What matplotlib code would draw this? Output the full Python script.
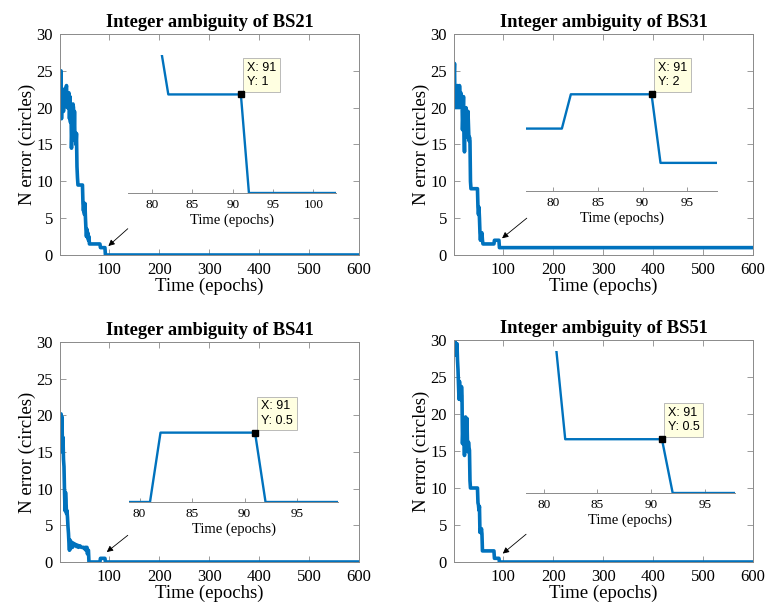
import matplotlib
matplotlib.use('agg')
import matplotlib.pyplot as plt

plt.rcParams['font.family'] = ['Liberation Serif', 'DejaVu Serif']

# epochs / ambiguity error
t_bs21 = [1, 2, 3, 4, 5, 6, 7, 8, 9, 10, 11, 12, 13, 14, 15, 16, 17, 18, 19, 20,
          21, 22, 23, 24, 25, 26, 27, 28, 29, 30, 31, 32, 33, 34, 35, 36, 37, 46,
          47, 48, 49, 50, 51, 52, 53, 54, 55, 56, 57, 58, 59, 60, 81, 82, 91, 92, 600]
n_bs21 = [21, 23, 25, 18.5, 21.5, 20, 22, 19.5, 22.5, 21, 22.5, 20.5, 22.5, 23, 21, 20,
          22, 21, 22, 18.5, 21.5, 18, 20, 14.5, 17, 19, 20.5, 20, 16, 19.5, 15.5, 16.5,
          15, 16.5, 12, 10.5, 9.5, 9.5, 7, 6, 7, 5.5, 7, 5, 3.5, 2.5, 3.5, 2.5, 3, 2,
          2.5, 1.5, 1.5, 1, 1, 0, 0]

t_bs31 = [1, 2, 3, 4, 5, 6, 7, 8, 9, 10, 11, 12, 13, 14, 15, 16, 17, 18, 19, 20,
          21, 22, 23, 24, 25, 26, 27, 28, 29, 30, 31, 32, 33, 34, 35, 48, 49, 50,
          51, 52, 53, 54, 55, 56, 57, 58, 59, 81, 82, 91, 92, 600]
n_bs31 = [24, 26, 20, 23, 21, 22.5, 20, 23, 21, 22.5, 20, 23, 21.5, 20.5, 22, 21,
          21.5, 17, 19, 21.5, 16, 14, 17, 18, 20, 17, 19.5, 16, 19.5, 17.5, 15.5, 16,
          15.5, 10, 9, 9, 6.5, 5.5, 6.5, 5, 3, 2, 3, 2.5, 3, 2, 1.5, 1.5, 2, 2, 1, 1]

t_bs41 = [1, 2, 3, 4, 5, 6, 7, 8, 9, 10, 11, 12, 13, 14, 15, 16, 17, 18, 19, 20,
          21, 22, 23, 24, 25, 26, 27, 28, 29, 30, 32, 34, 36, 38, 41, 44, 48, 50,
          52, 53, 55, 56, 57, 58, 59, 81, 82, 91, 92, 600]
n_bs41 = [18, 16.6, 20.2, 16.1, 19.8, 15, 17, 14, 13, 9.8, 7, 9.5, 8.4, 6.6, 7, 6.1,
          4.8, 3.9, 2.5, 1.6, 3, 1.8, 2.8, 2.5, 2.2, 2, 2.6, 2.2, 2.5, 2.3, 2.4, 2.1,
          2.3, 2, 2.2, 2, 2, 1.8, 2, 1.6, 2, 1.1, 1.6, 1.6, 0, 0, 0.5, 0.5, 0, 0]

t_bs51 = [1, 2, 3, 4, 5, 6, 7, 8, 9, 10, 11, 12, 13, 14, 15, 16, 17, 18, 19, 20,
          21, 22, 23, 24, 25, 26, 27, 28, 29, 30, 31, 32, 33, 34, 48, 49, 50, 51,
          52, 53, 54, 55, 56, 57, 58, 81, 82, 91, 92, 600]
n_bs51 = [30, 28, 29.8, 28, 29.5, 28.5, 29.5, 27.3, 26, 24, 22, 24.4, 22, 23.5, 21.9,
          23.7, 22.5, 16, 18, 19.1, 16.5, 14.4, 17, 19.6, 17.4, 18.5, 19.4, 16, 14.9,
          16.2, 15.5, 15.1, 11, 10, 10, 8, 7.7, 7, 7.5, 4, 4.5, 4, 4.5, 3.8, 1.5, 1.5,
          0.5, 0.5, 0, 0]

names = ['BS21', 'BS31', 'BS41', 'BS51']
series_t = [t_bs21, t_bs31, t_bs41, t_bs51]
series_n = [n_bs21, n_bs31, n_bs41, n_bs51]
tip_y = [1, 2, 0.5, 0.5]  # data tip value at epoch 91
tip_x = 91

W, H = 767, 608
fig = plt.figure(figsize=(W / 100, H / 100), dpi=100)
blue = '#0072BD'
gray = '#8a8a8a'


def px_axes(x0, y0, x1, y1):
    return fig.add_axes([x0 / W, 1 - y1 / H, (x1 - x0) / W, (y1 - y0) / H])


main_boxes = [(60, 34, 359, 255), (454, 34, 753, 255),
              (60, 342, 359, 562), (454, 340, 753, 562)]
inset_boxes = [(128, 55, 336, 193), (526, 60, 717, 191),
               (129, 391, 338, 502), (526, 351, 735, 493)]
inset_xlim = [(77, 102.8), (77, 98.3), (79, 98.9), (78.35, 97.8)]
inset_ylim = [(0, 1.4), (0.59, 2.5), (0, 0.8), (0, 1.32)]
inset_ticks = [[80, 85, 90, 95, 100], [80, 85, 90, 95], [80, 85, 90, 95], [80, 85, 90, 95]]
arrows = [((136.8, 3.57), (97.9, 1.22)), ((146.8, 5.0), (97.3, 2.27)),
          ((136.8, 3.64), (94.7, 1.36)), ((145.4, 3.75), (98.7, 1.14))]

for i in range(4):
    ax = px_axes(*main_boxes[i])
    ax.plot(series_t[i], series_n[i], color=blue, lw=2.6)
    ax.set_xlim(1, 600)
    ax.set_ylim(0, 30)
    ax.set_xticks([100, 200, 300, 400, 500, 600])
    ax.set_yticks([0, 5, 10, 15, 20, 25, 30])
    ax.tick_params(direction='in', length=4, width=0.6, color=gray,
                   top=True, right=True, labelsize=12, pad=5)
    for s in ax.spines.values():
        s.set_color(gray)
        s.set_linewidth(0.7)
    ax.set_title('Integer ambiguity of ' + names[i], fontsize=13.3,
                 fontweight='bold', pad=5)
    ax.set_xlabel('Time (epochs)', fontsize=13.5, labelpad=0)
    ax.set_ylabel('N error (circles)', fontsize=13.5, labelpad=0)
    (tx, ty), (hx, hy) = arrows[i]
    ax.annotate('', xy=(hx, hy), xytext=(tx, ty),
                arrowprops=dict(arrowstyle='-|>', color='k', lw=0.6,
                                mutation_scale=9, shrinkA=0, shrinkB=0))

    ins = px_axes(*inset_boxes[i])
    ins.patch.set_alpha(0)
    ins.plot(series_t[i], series_n[i], color=blue, lw=1.7)
    ins.set_xlim(*inset_xlim[i])
    ins.set_ylim(*inset_ylim[i])
    ins.set_xticks(inset_ticks[i])
    ins.set_yticks([])
    for side in ['top', 'left', 'right']:
        ins.spines[side].set_visible(False)
    ins.spines['bottom'].set_color(gray)
    ins.spines['bottom'].set_linewidth(0.7)
    ins.tick_params(direction='in', length=3, width=0.6, color=gray,
                    labelsize=9.5, pad=4)
    ins.set_xlabel('Time (epochs)', fontsize=10.5, labelpad=2)
    ins.plot([tip_x], [tip_y[i]], 's', color='k', ms=4, clip_on=False, zorder=5)
    ins.annotate('X: %d\nY: %g' % (tip_x, tip_y[i]), xy=(tip_x, tip_y[i]),
                 xytext=(6, 6), textcoords='offset pixels', ha='left', va='bottom',
                 fontsize=9, family=['Liberation Sans', 'DejaVu Sans'],
                 linespacing=1.25, annotation_clip=False,
                 bbox=dict(boxstyle='square,pad=0.3', fc='#FFFFE1', ec='#b0b0b0', lw=0.6))

fig.savefig('out.png', dpi=100)
